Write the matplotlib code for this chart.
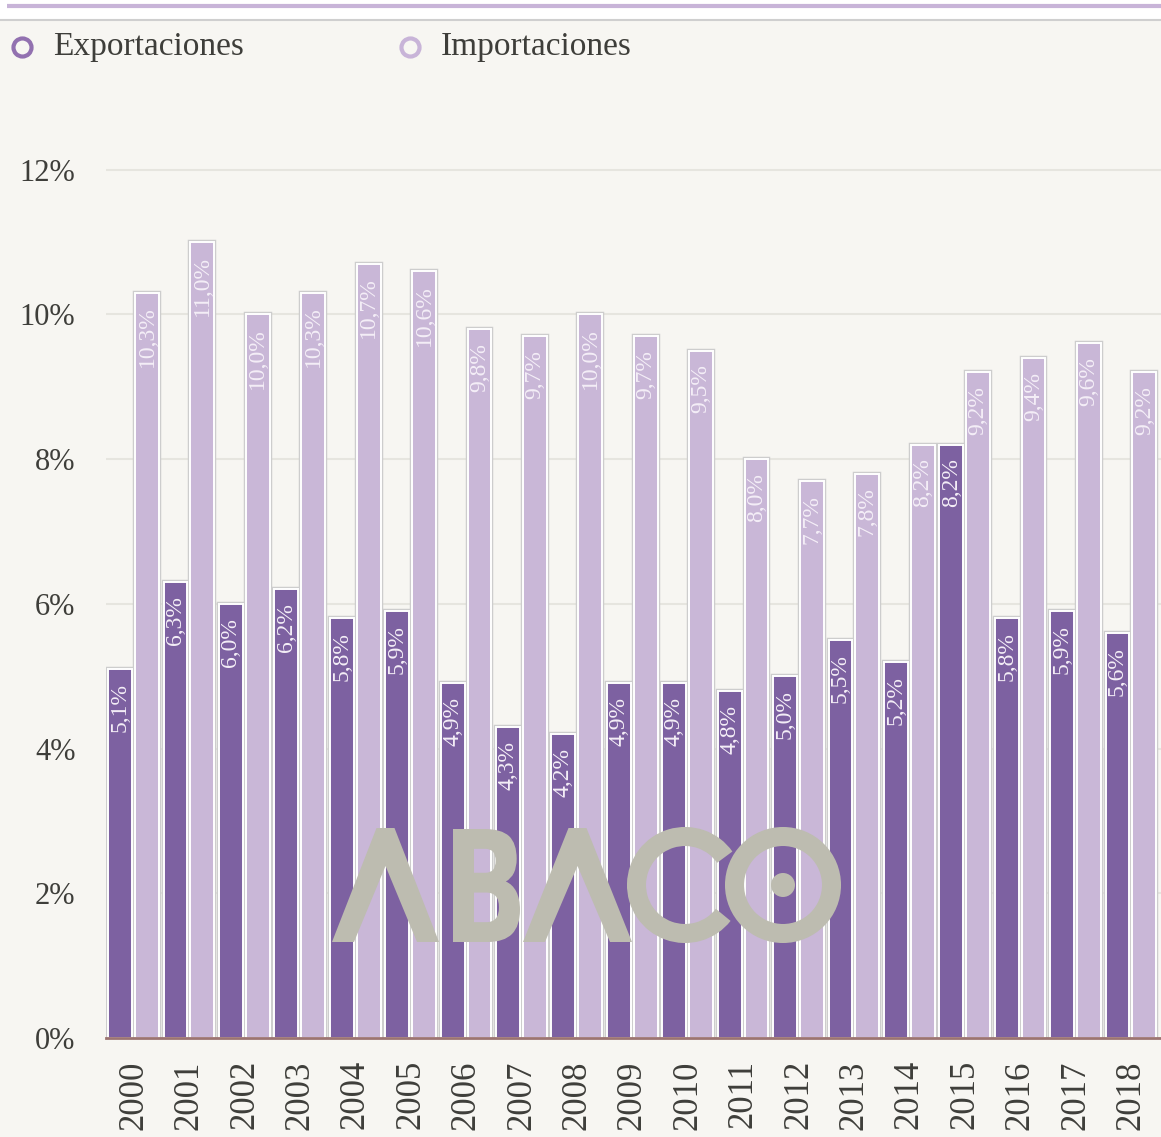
import matplotlib
matplotlib.use("Agg")
import matplotlib.pyplot as plt
import numpy as np
from matplotlib.patches import Rectangle, Polygon, Circle, Arc, PathPatch
from matplotlib.textpath import TextPath
from matplotlib.font_manager import FontProperties
from matplotlib.transforms import Affine2D

# Peso de exportaciones e importaciones (% del total), 2000-2018
anios = [str(a) for a in range(2000, 2019)]
exportaciones = [5.1, 6.3, 6.0, 6.2, 5.8, 5.9, 4.9, 4.3, 4.2, 4.9,
                 4.9, 4.8, 5.0, 5.5, 5.2, 8.2, 5.8, 5.9, 5.6]
importaciones = [10.3, 11.0, 10.0, 10.3, 10.7, 10.6, 9.8, 9.7, 10.0, 9.7,
                 9.5, 8.0, 7.7, 7.8, 8.2, 9.2, 9.4, 9.6, 9.2]
ticks_y = [0, 2, 4, 6, 8, 10, 12]

FONDO = "#f7f6f2"
MORADO = "#7d61a1"
LILA = "#c9b7d7"
GRIS_TXT = "#3e3e3a"
SERIF = "Liberation Serif"

W, H = 1161, 1137
fig = plt.figure(figsize=(W / 100, H / 100), dpi=100, facecolor=FONDO)

ax = fig.add_axes([106 / W, (H - 1038) / H, 1 - 106 / W, (1038 - 148) / H])
ax.set_facecolor(FONDO)

x = np.arange(len(anios))
ancho = 0.43
for serie, desp, color in [(exportaciones, -0.245, MORADO), (importaciones, 0.24, LILA)]:
    # contorno gris exterior + borde blanco interior
    ax.bar(x + desp, serie, width=ancho, color=color, edgecolor="#cdcdcd",
           linewidth=3.2, zorder=2)
    ax.bar(x + desp, serie, width=ancho, color=color, edgecolor="white",
           linewidth=1.4, zorder=3)
    for xi, v in zip(x + desp, serie):
        ax.annotate(f"{v:.1f}%".replace(".", ","), (xi, v), xytext=(0, -10),
                    textcoords="offset points", rotation=90, ha="center", va="top",
                    color="#f4eef7", fontsize=17, family=SERIF, zorder=4)

ax.set_xlim(-0.5, 18.54)
ax.set_ylim(0, 12.3)
ax.set_yticks(ticks_y)
ax.set_yticklabels([f"{t}%" for t in ticks_y], family=SERIF, fontsize=22, color=GRIS_TXT)
ax.set_xticks(x)
ax.set_xticklabels(anios, rotation=90, family=SERIF, fontsize=25, color=GRIS_TXT)
ax.tick_params(axis="y", length=0, pad=22)
ax.tick_params(axis="x", length=0, pad=16)
ax.grid(axis="y", color="#e6e5df", linewidth=1.5, zorder=0)
ax.set_axisbelow(True)
for lado in ["top", "right", "left"]:
    ax.spines[lado].set_visible(False)
ax.spines["bottom"].set_color("#9c7471")
ax.spines["bottom"].set_linewidth(2)
ax.spines["bottom"].set_zorder(5)

# capa superior en pixeles: cabecera, leyenda y logo
ov = fig.add_axes([0, 0, 1, 1], zorder=5)
ov.set_xlim(0, W)
ov.set_ylim(H, 0)
ov.axis("off")
ov.patch.set_alpha(0)

ov.add_patch(Rectangle((-5, -5), W + 10, 25, facecolor="white", edgecolor="#cfcfcf", linewidth=1.5))
ov.plot([7, W], [6, 6], color="#c8b4d8", linewidth=3, solid_capstyle="butt")

for (mx, txt, col) in [(22, "Exportaciones", "#9271b0"), (410, "Importaciones", "#c8b4d8")]:
    ov.plot(mx, 47, marker="o", markersize=13, markerfacecolor=FONDO,
            markeredgecolor=col, markeredgewidth=3)
    ov.text(mx + 31, 47, txt, family=SERIF, fontsize=24, color=GRIS_TXT, va="center", ha="left")

# logo ABACO
LOGO = "#bdbcb0"
for (x0, x1) in [(332, 439), (523, 632)]:
    xm = (x0 + x1) / 2
    ov.add_patch(Polygon([(x0, 942), (xm - 9, 828), (xm + 9, 828), (x1, 942),
                          (x1 - 22, 942), (xm, 866), (x0 + 22, 942)],
                         closed=True, facecolor=LOGO, edgecolor="none"))

tp = TextPath((0, 0), "B", size=100, prop=FontProperties(family="DejaVu Sans", weight="bold"))
ext = tp.get_extents()
sx = (520 - 453) / ext.width
sy = (942 - 829) / ext.height
tr = Affine2D().translate(-ext.x0, -ext.y0).scale(sx, -sy).translate(453, 942)
ov.add_patch(PathPatch(tr.transform_path(tp), facecolor=LOGO, edgecolor="none"))

ov.add_patch(Arc((685, 885), 97, 97, theta1=38, theta2=325, color=LOGO, linewidth=13.7))
ov.add_patch(Circle((783, 885), 48.5, fill=False, edgecolor=LOGO, linewidth=13.7))
ov.add_patch(Circle((783, 885), 12, facecolor=LOGO, edgecolor="none"))

fig.savefig("out.png", dpi=100, facecolor=FONDO)
